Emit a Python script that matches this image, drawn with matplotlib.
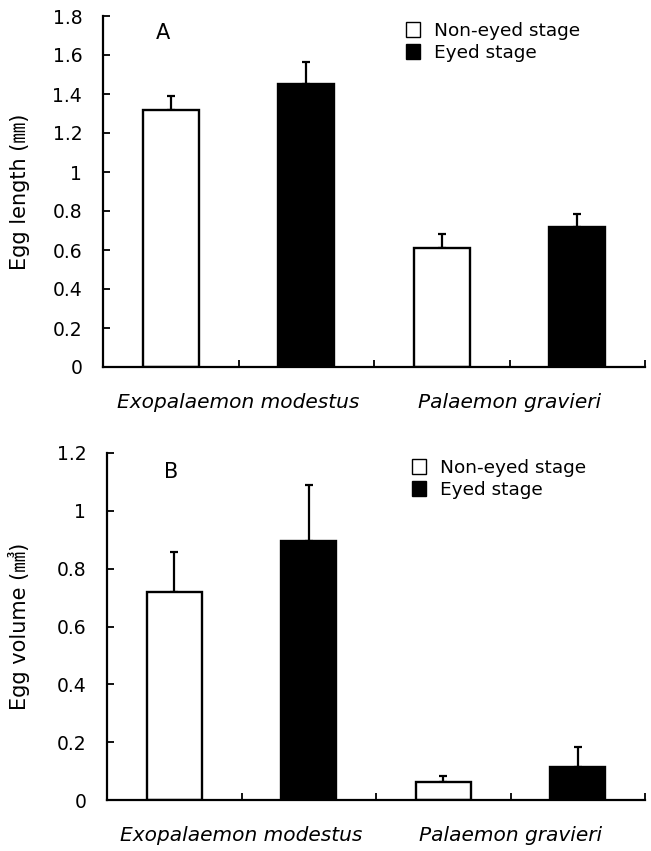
import matplotlib
matplotlib.use("Agg")
import matplotlib.pyplot as plt
from matplotlib.patches import Patch

# -----------------------------
# data
# -----------------------------
species = ["Exopalaemon modestus", "Palaemon gravieri"]
stages = ["Non-eyed stage", "Eyed stage"]

length_mean = [1.32, 1.45, 0.61, 0.72]   # order: Exo non-eyed, Exo eyed, Pal non-eyed, Pal eyed
length_err = [0.07, 0.115, 0.07, 0.065]

volume_mean = [0.72, 0.895, 0.062, 0.114]
volume_err = [0.138, 0.195, 0.022, 0.068]

bar_pos = [0.5, 1.5, 2.5, 3.5]
bar_colors = ["white", "black", "white", "black"]

plt.rcParams["font.family"] = ["DejaVu Sans", "Noto Sans CJK KR"]
plt.rcParams["font.size"] = 13.5

fig = plt.figure(figsize=(6.51, 8.51), dpi=100)
W, H = 651.0, 851.0


def panel(rect_px, means, errs, ymax, ystep, letter, ylabel, letter_xy, leg_xy):
    l, t, r, b = rect_px
    ax = fig.add_axes([l / W, 1 - b / H, (r - l) / W, (b - t) / H])
    ax.bar(bar_pos, means, width=0.41, color=bar_colors, edgecolor="black",
           linewidth=1.7, zorder=2)
    ax.errorbar(bar_pos, means, yerr=[[0] * len(errs), errs], fmt="none",
                ecolor="black", elinewidth=1.6, capsize=3, capthick=1.6, zorder=1)
    ax.set_xlim(0, 4)
    ax.set_ylim(0, ymax)
    n = int(round(ymax / ystep))
    yt = [round(i * ystep, 2) for i in range(n + 1)]
    ax.set_yticks(yt)
    ax.set_yticklabels(["%g" % v for v in yt])
    ax.set_xticks([0, 1, 2, 3, 4])
    ax.set_xticklabels(["", species[0], "", species[1], ""], style="italic",
                       fontsize=14.5)
    ax.tick_params(axis="x", direction="in", length=5, width=1.3, pad=19)
    ax.tick_params(axis="y", direction="in", length=5, width=1.3, pad=15)
    for s in ["top", "right"]:
        ax.spines[s].set_visible(False)
    for s in ["left", "bottom"]:
        ax.spines[s].set_linewidth(1.6)
    ax.set_ylabel(ylabel, fontsize=15)
    ax.yaxis.set_label_coords((30 - l) / (r - l), 0.5)
    fig.text(letter_xy[0] / W, 1 - letter_xy[1] / H, letter, ha="center",
             va="center", fontsize=15)
    handles = [Patch(facecolor=c, edgecolor="black", linewidth=1.0)
               for c in ["white", "black"]]
    fig.legend(handles, stages, loc="upper left", frameon=False,
               bbox_to_anchor=(leg_xy[0] / W, 1 - leg_xy[1] / H),
               handlelength=0.75, handleheight=0.85, handletextpad=0.75,
               labelspacing=0.2, borderpad=0, borderaxespad=0, fontsize=13.3)
    return ax


panel((103, 16, 645, 367), length_mean, length_err, 1.8, 0.2, "A",
      "Egg length (㎜)", (163, 33), (406, 22))
panel((107, 453, 645, 800), volume_mean, volume_err, 1.2, 0.2, "B",
      "Egg volume (㎣)", (171, 472), (412, 459))

fig.savefig("out.png", dpi=100)
